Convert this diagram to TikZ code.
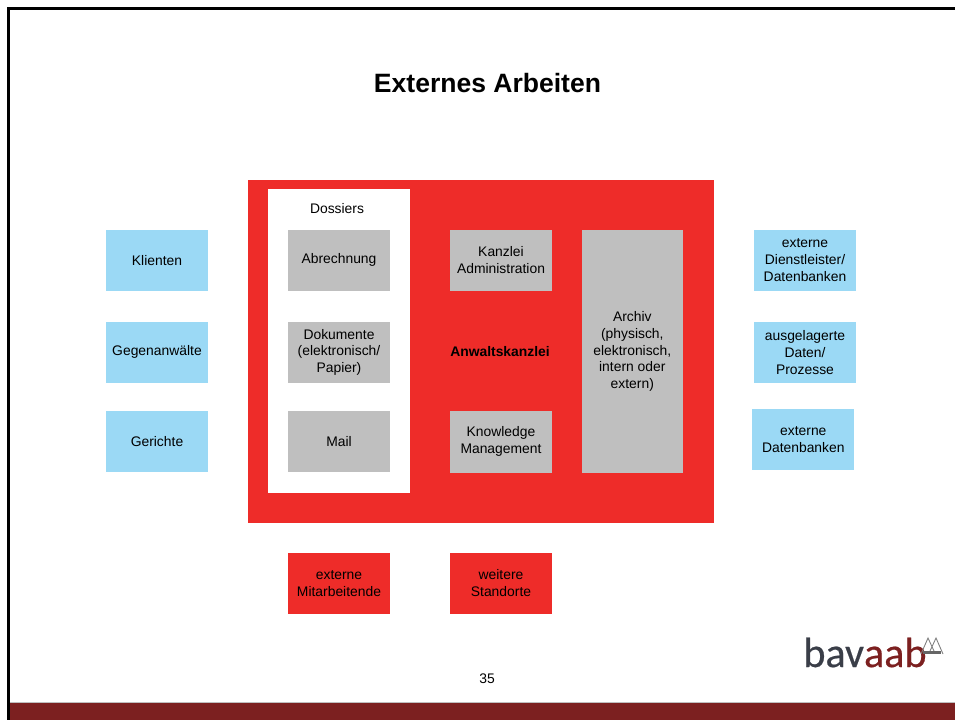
\documentclass[tikz,border=0pt]{standalone}
\usepackage{fontspec}
\setmainfont{Liberation Sans}
\newfontfamily\logofont[FakeBold=0.5]{Carlito}
\definecolor{kanzleired}{RGB}{238,44,41}
\definecolor{boxblue}{RGB}{155,217,245}
\definecolor{boxgray}{RGB}{191,191,191}
\definecolor{bandred}{RGB}{124,32,32}
\definecolor{logodark}{RGB}{58,62,72}
\tikzset{
	box/.style={minimum width=2.04cm, minimum height=1.23cm, inner sep=0pt, align=center, text=black, font=\fontsize{7.9}{9.6}\selectfont},
	bluebox/.style={box, fill=boxblue},
	graybox/.style={box, fill=boxgray},
	redbox/.style={box, fill=kanzleired},
	plain/.style={inner sep=0pt, align=center, text=black, font=\fontsize{7.9}{9.6}\selectfont}
}
\begin{document}
\begin{tikzpicture}[x=0.02cm, y=-0.02cm]
	\useasboundingbox (0,0) rectangle (955,720);
	\fill[white] (0,0) rectangle (955,720);
	% frame and band
	\fill[bandred] (10,703) rectangle (955,720);
	\fill[black!25] (10,702) rectangle (955,703);
	\fill[black] (7,7) rectangle (955,10);
	\fill[black] (7,7) rectangle (10,720);
	\node[plain, font=\fontsize{15.1}{18}\selectfont\bfseries] (title) at (487.5,83) {Externes Arbeiten};
	% kanzlei
	\fill[kanzleired] (248,180) rectangle (714,523);
	\fill[white] (268,189) rectangle (410,493);
	\node[plain] (dossiers) at (337,209) {Dossiers};
	\foreach \x/\y/\n/\t in {157/260.3/klienten/Klienten, 157/352.3/gegen/Gegenanwälte, 157/441.5/gerichte/Gerichte,
		805/260.3/dienst/{externe\\Dienstleister/\\Datenbanken}, 805/352.3/daten/{ausgelagerte\\Daten/\\Prozesse}, 803.3/439.5/extern/{externe\\Datenbanken}}
	{
		\node[bluebox] (\n) at (\x,\y) {\t};
	}
	\foreach \x/\y/\n/\t in {339/260.3/abrechnung/Abrechnung, 339/352.3/dokumente/{Dokumente\\(elektronisch/\\Papier)}, 339/441.5/mail/Mail,
		501/260.3/admin/{Kanzlei\\Administration}, 501/441.8/knowledge/{Knowledge\\Management}}
	{
		\node[graybox] (\n) at (\x,\y) {\t};
	}
	\node[graybox, minimum width=2.02cm, minimum height=4.86cm] (archiv) at (632.3,351.5) {Archiv\\(physisch,\\elektronisch,\\intern oder\\extern)};
	\node[plain, font=\fontsize{7.9}{9.6}\selectfont\bfseries] (kanzlei) at (500,351.5) {Anwaltskanzlei};
	\foreach \x/\n/\t in {339/mitarbeitende/{externe\\Mitarbeitende}, 501/standorte/{weitere\\Standorte}}
	{
		\node[redbox] (\n) at (\x,583.3) {\t};
	}
	\node[plain] (seite) at (487,679) {35};
	% logo
	\node[inner sep=0pt, anchor=base west, font=\logofont\fontsize{24}{24}\selectfont] (logo) at (803,667) {\textcolor{logodark}{bav}\textcolor{bandred}{aab}};
	\draw[black!50, line width=0.5pt] (921,654) -- (928,638) -- (934,651) (930,651) -- (936,638) -- (943,654);
	\fill[black!60] (923,651) rectangle (941,654);
\end{tikzpicture}
\end{document}
